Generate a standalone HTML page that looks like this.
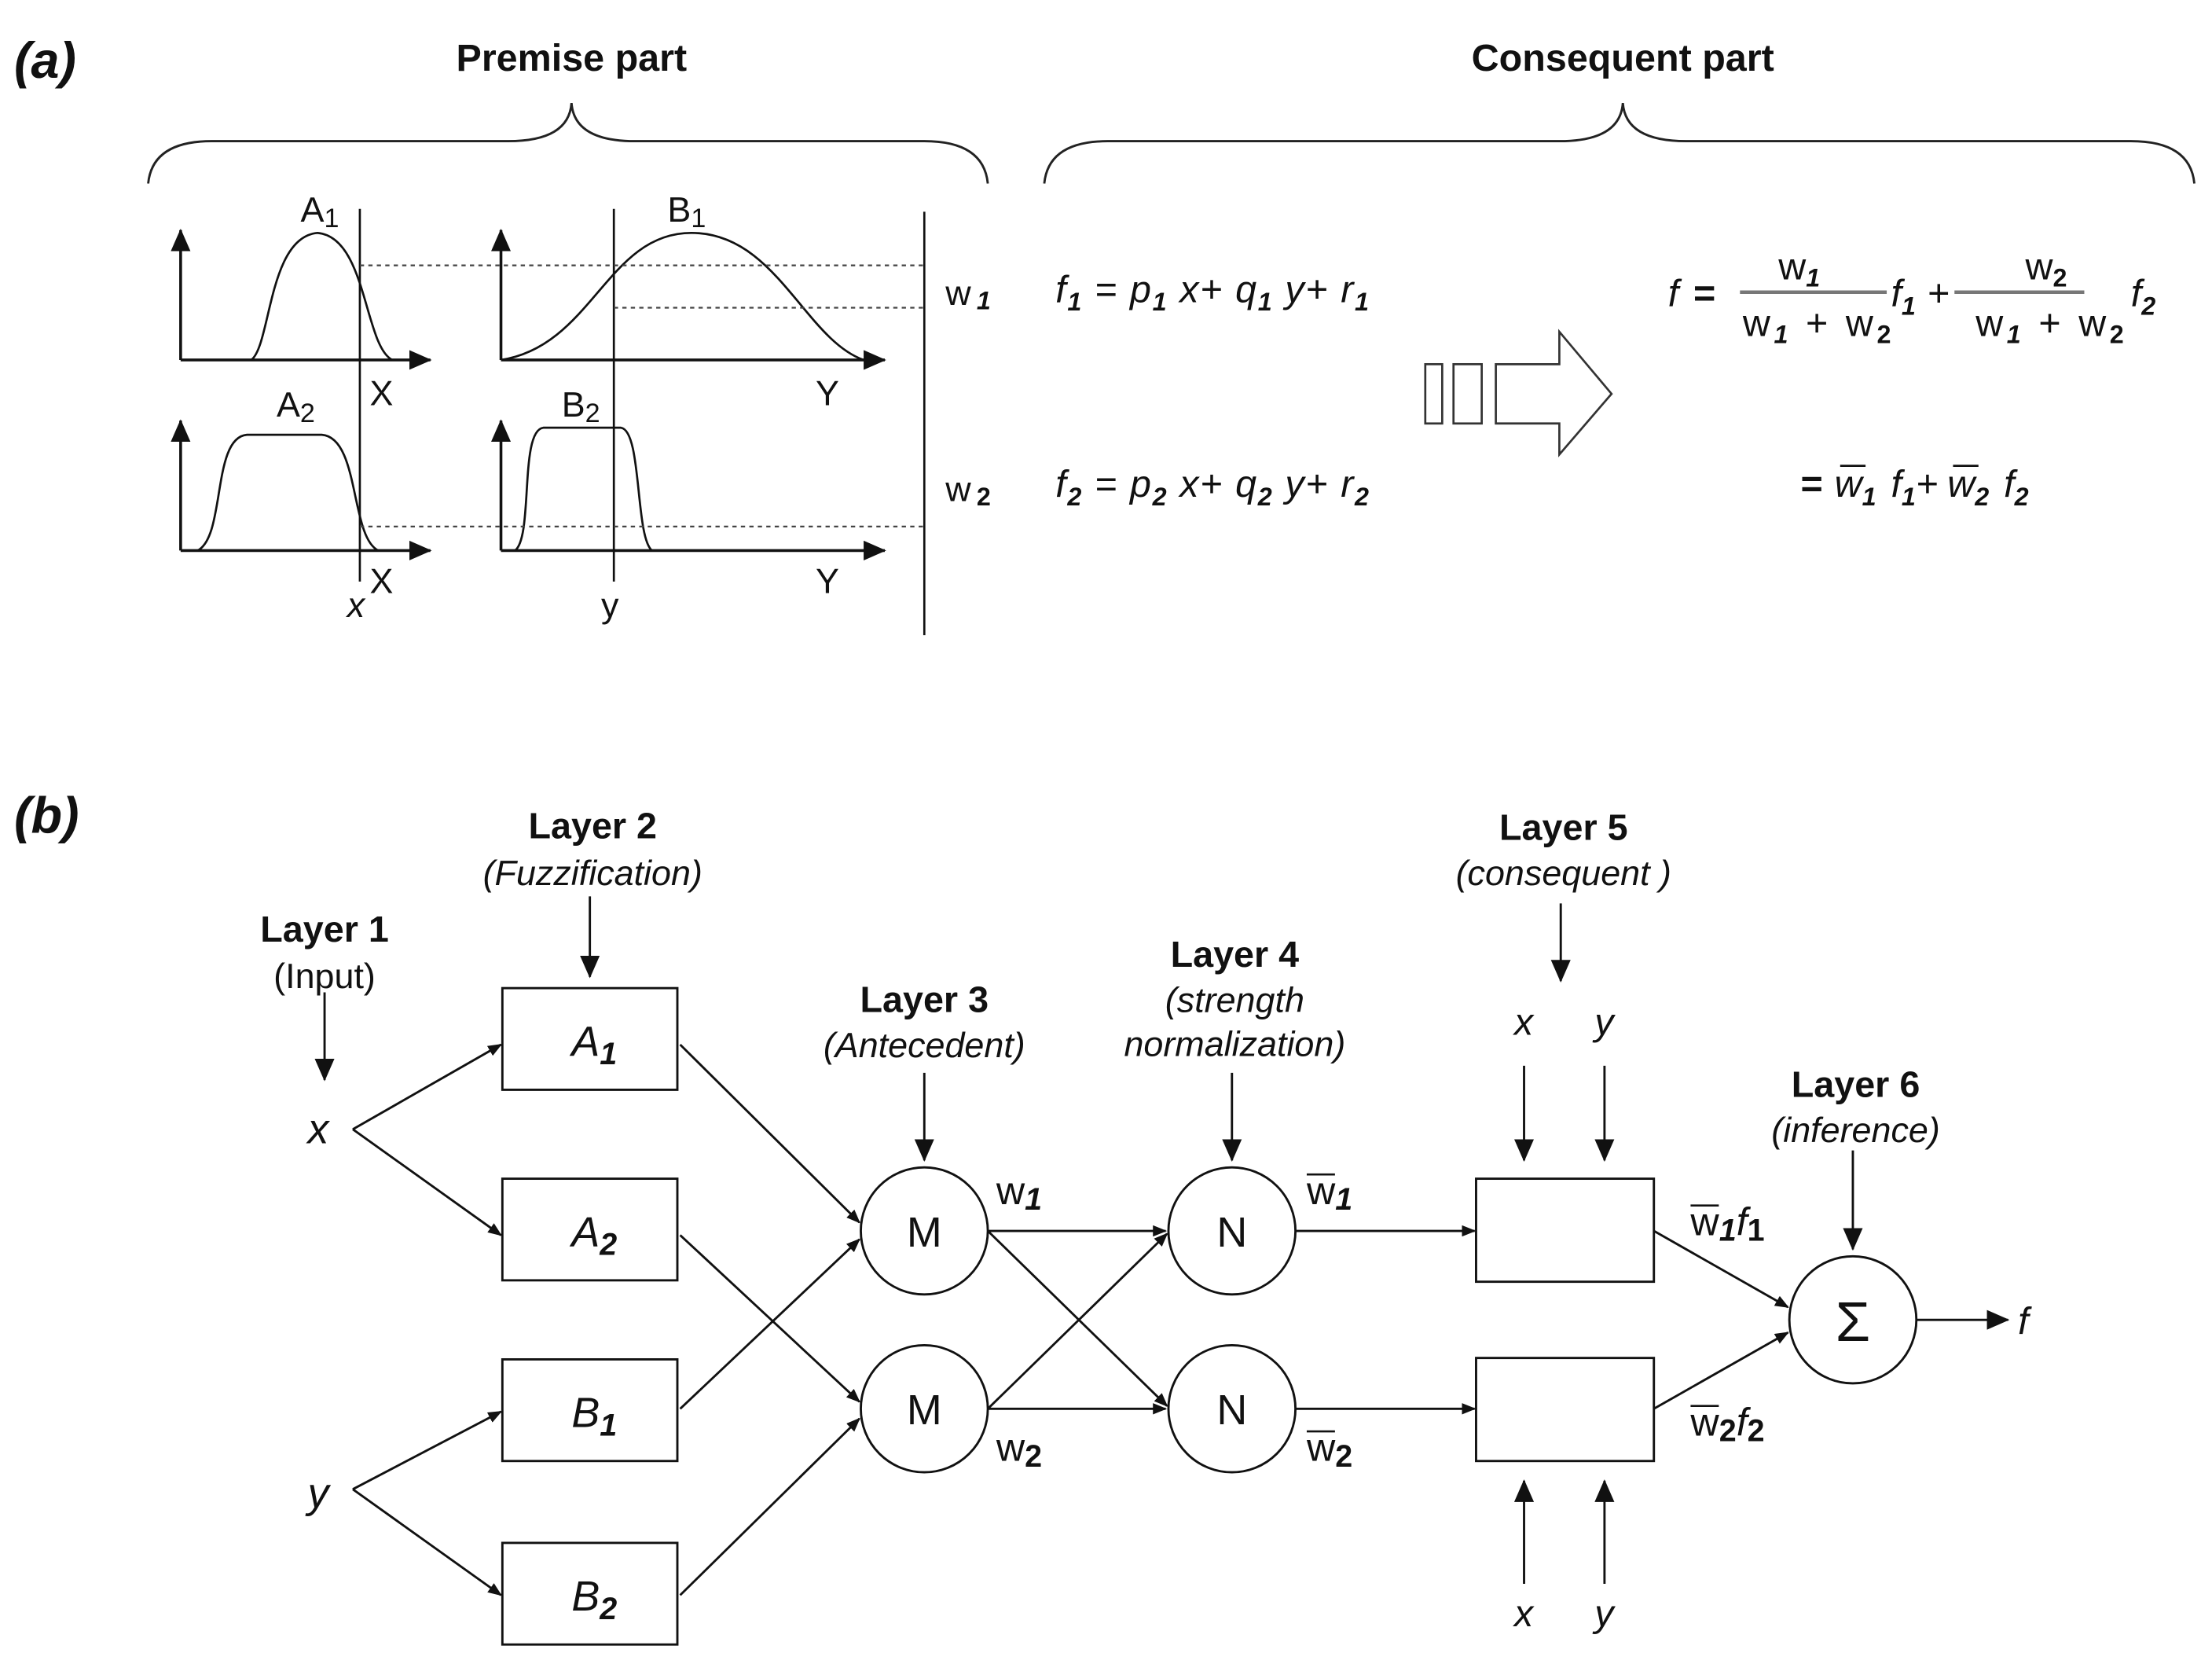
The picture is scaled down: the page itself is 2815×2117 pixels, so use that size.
<!DOCTYPE html>
<html><head><meta charset="utf-8"><style>html,body{margin:0;padding:0;background:#fff}svg{display:block}</style></head>
<body>
<svg width="2815" height="2117" viewBox="0 0 1567.5 1178.8" preserveAspectRatio="none" xmlns="http://www.w3.org/2000/svg" font-family="Liberation Sans, Arial, sans-serif">
<defs>
<marker id="ar" markerWidth="10" markerHeight="8" refX="9" refY="4" orient="auto" markerUnits="userSpaceOnUse" viewBox="0 0 10 8"><path d="M0,0 L10,4 L0,8 z" fill="#111"/></marker>
<marker id="ab" markerWidth="16" markerHeight="14" refX="15" refY="7" orient="auto" markerUnits="userSpaceOnUse" viewBox="0 0 16 14"><path d="M0,0 L16,7 L0,14 z" fill="#111"/></marker>
</defs>
<g fill="#111">
<text x="10" y="55" font-size="36" font-weight="bold" font-style="italic">(a)</text>
<text x="405" y="50" font-size="27" font-weight="bold" text-anchor="middle">Premise part</text>
<text x="1150" y="50" font-size="27" font-weight="bold" text-anchor="middle">Consequent part</text>
</g>
<g fill="none" stroke="#222" stroke-width="1.6">
<path d="M105,130 Q108,100 150,100 L360,100 Q403,100 405,73 Q407,100 450,100 L655,100 Q697,100 700,130"/>
<path d="M740,130 Q743,100 785,100 L1105,100 Q1148,100 1150,73 Q1152,100 1195,100 L1510,100 Q1552,100 1555,130"/>
</g>
<g stroke="#111" stroke-width="2" fill="none">
<line x1="128" y1="255" x2="128" y2="163" marker-end="url(#ab)"/>
<line x1="128" y1="255" x2="305" y2="255" marker-end="url(#ab)"/>
<line x1="355" y1="255" x2="355" y2="163" marker-end="url(#ab)"/>
<line x1="355" y1="255" x2="627" y2="255" marker-end="url(#ab)"/>
<line x1="128" y1="390" x2="128" y2="298" marker-end="url(#ab)"/>
<line x1="128" y1="390" x2="305" y2="390" marker-end="url(#ab)"/>
<line x1="355" y1="390" x2="355" y2="298" marker-end="url(#ab)"/>
<line x1="355" y1="390" x2="627" y2="390" marker-end="url(#ab)"/>
</g>
<g stroke="#111" stroke-width="1.5" fill="none">
<line x1="255" y1="148" x2="255" y2="412"/>
<line x1="435" y1="148" x2="435" y2="412"/>
<line x1="655" y1="150" x2="655" y2="450"/>
<path d="M178,255 C192,245 190,168 225,165 C260,168 258,245 278,255"/>
<path d="M355,255 C420,245 430,165 490,165 C550,165 570,240 612,255"/>
<path d="M140,390 C160,380 150,310 175,308 L228,308 C255,310 248,380 268,390"/>
<path d="M365,390 C378,380 368,305 385,303 L440,303 C455,305 450,380 462,390"/>
</g>
<g stroke="#444" stroke-width="1.3" stroke-dasharray="3,3">
<line x1="255" y1="188" x2="655" y2="188"/>
<line x1="435" y1="218" x2="655" y2="218"/>
<line x1="255" y1="373" x2="655" y2="373"/>
</g>
<g fill="#111" font-size="25">
<text x="213" y="157">A<tspan font-size="19" dy="4">1</tspan></text>
<text x="473" y="157">B<tspan font-size="19" dy="4">1</tspan></text>
<text x="196" y="295">A<tspan font-size="19" dy="4">2</tspan></text>
<text x="398" y="295">B<tspan font-size="19" dy="4">2</tspan></text>
<text x="262" y="287">X</text>
<text x="262" y="420">X</text>
<text x="578" y="287">Y</text>
<text x="578" y="420">Y</text>
<text x="246" y="437" font-style="italic">x</text>
<text x="426" y="437">y</text>
<text x="670" y="216">w<tspan font-size="18" font-style="italic" font-weight="bold" dx="4" dy="3">1</tspan></text>
<text x="670" y="355">w<tspan font-size="18" font-weight="bold" dx="4" dy="3">2</tspan></text>
</g>
<g fill="#111" font-size="27" font-style="italic">
<text x="748" y="214" textLength="222" lengthAdjust="spacing">f<tspan font-size="18" font-weight="bold" dy="6">1</tspan><tspan dy="-6"> = p</tspan><tspan font-size="18" font-weight="bold" dy="6">1</tspan><tspan dy="-6"> x+ q</tspan><tspan font-size="18" font-weight="bold" dy="6">1</tspan><tspan dy="-6"> y+ r</tspan><tspan font-size="18" font-weight="bold" dy="6">1</tspan></text>
<text x="748" y="352" textLength="222" lengthAdjust="spacing">f<tspan font-size="18" font-weight="bold" dy="6">2</tspan><tspan dy="-6"> = p</tspan><tspan font-size="18" font-weight="bold" dy="6">2</tspan><tspan dy="-6"> x+ q</tspan><tspan font-size="18" font-weight="bold" dy="6">2</tspan><tspan dy="-6"> y+ r</tspan><tspan font-size="18" font-weight="bold" dy="6">2</tspan></text>
</g>
<g fill="none" stroke="#333" stroke-width="1.5">
<rect x="1010" y="258" width="12" height="42"/>
<rect x="1030" y="258" width="20" height="42"/>
<path d="M1060,258 L1105,258 L1105,235 L1142,279 L1105,322 L1105,300 L1060,300 Z"/>
</g>
<g fill="#111" font-size="27">
<text x="1182" y="217" font-style="italic">f</text>
<text x="1200" y="217" font-weight="bold">=</text>
<text x="1275" y="198" text-anchor="middle">w<tspan font-size="18" font-weight="bold" font-style="italic" dy="5">1</tspan></text>
<line x1="1233" y1="207" x2="1337" y2="207" stroke="#777" stroke-width="2.5"/>
<text x="1235" y="238" textLength="105" lengthAdjust="spacing">w<tspan font-size="18" font-weight="bold" font-style="italic" dy="5">1</tspan><tspan dy="-5"> + w</tspan><tspan font-size="18" font-weight="bold" dy="5">2</tspan></text>
<text x="1340" y="217" font-style="italic">f<tspan font-size="18" font-weight="bold" dy="6">1</tspan></text>
<text x="1366" y="217">+</text>
<text x="1450" y="198" text-anchor="middle">w<tspan font-size="18" font-weight="bold" dy="5">2</tspan></text>
<line x1="1385" y1="207" x2="1477" y2="207" stroke="#777" stroke-width="2.5"/>
<text x="1400" y="238" textLength="105" lengthAdjust="spacing">w<tspan font-size="18" font-weight="bold" font-style="italic" dy="5">1</tspan><tspan dy="-5"> + w</tspan><tspan font-size="18" font-weight="bold" dy="5">2</tspan></text>
<text x="1510" y="217" font-style="italic">f<tspan font-size="18" font-weight="bold" dy="6">2</tspan></text>
<text x="1276" y="352" font-weight="bold">=</text>
<text x="1300" y="352" font-style="italic">w<tspan font-size="18" font-weight="bold" dy="6">1</tspan></text>
<text x="1340" y="352" font-style="italic">f<tspan font-size="18" font-weight="bold" dy="6">1</tspan></text>
<text x="1358" y="352">+</text>
<text x="1380" y="352" font-style="italic">w<tspan font-size="18" font-weight="bold" dy="6">2</tspan></text>
<text x="1420" y="352" font-style="italic">f<tspan font-size="18" font-weight="bold" dy="6">2</tspan></text>
<line x1="1304" y1="330" x2="1322" y2="330" stroke="#111" stroke-width="1.5"/>
<line x1="1384" y1="330" x2="1402" y2="330" stroke="#111" stroke-width="1.5"/>
</g>

<!-- (b) -->
<g fill="#111">
<text x="10" y="590" font-size="36" font-weight="bold" font-style="italic">(b)</text>
<g font-size="26" font-weight="bold" text-anchor="middle">
<text x="230" y="667">Layer 1</text>
<text x="420" y="594">Layer 2</text>
<text x="655" y="717">Layer 3</text>
<text x="875" y="685">Layer 4</text>
<text x="1108" y="595">Layer 5</text>
<text x="1315" y="777">Layer 6</text>
</g>
<g font-size="25" text-anchor="middle">
<text x="230" y="700">(Input)</text>
<text x="420" y="627" font-style="italic">(Fuzzification)</text>
<text x="655" y="749" font-style="italic">(Antecedent)</text>
<text x="875" y="717" font-style="italic">(strength</text>
<text x="875" y="748" font-style="italic">normalization)</text>
<text x="1108" y="627" font-style="italic">(consequent )</text>
<text x="1315" y="809" font-style="italic">(inference)</text>
</g>
</g>
<g stroke="#111" stroke-width="1.6" fill="none">
<line x1="230" y1="703" x2="230" y2="765" marker-end="url(#ab)"/>
<line x1="418" y1="635" x2="418" y2="692" marker-end="url(#ab)"/>
<line x1="655" y1="760" x2="655" y2="822" marker-end="url(#ab)"/>
<line x1="873" y1="760" x2="873" y2="822" marker-end="url(#ab)"/>
<line x1="1106" y1="640" x2="1106" y2="695" marker-end="url(#ab)"/>
<line x1="1313" y1="815" x2="1313" y2="885" marker-end="url(#ab)"/>
<rect x="356" y="700" width="124" height="72"/>
<rect x="356" y="835" width="124" height="72"/>
<rect x="356" y="963" width="124" height="72"/>
<rect x="356" y="1093" width="124" height="72"/>
<circle cx="655" cy="872" r="45"/>
<circle cx="655" cy="998" r="45"/>
<circle cx="873" cy="872" r="45"/>
<circle cx="873" cy="998" r="45"/>
<circle cx="1313" cy="935" r="45"/>
<rect x="1046" y="835" width="126" height="73"/>
<rect x="1046" y="962" width="126" height="73"/>
<line x1="250" y1="800" x2="355" y2="740" marker-end="url(#ar)"/>
<line x1="250" y1="800" x2="355" y2="875" marker-end="url(#ar)"/>
<line x1="250" y1="1055" x2="355" y2="1000" marker-end="url(#ar)"/>
<line x1="250" y1="1055" x2="355" y2="1130" marker-end="url(#ar)"/>
<line x1="482" y1="740" x2="609" y2="866" marker-end="url(#ar)"/>
<line x1="482" y1="875" x2="609" y2="993" marker-end="url(#ar)"/>
<line x1="482" y1="998" x2="609" y2="878" marker-end="url(#ar)"/>
<line x1="482" y1="1130" x2="609" y2="1005" marker-end="url(#ar)"/>
<line x1="700" y1="872" x2="826" y2="872" marker-end="url(#ar)"/>
<line x1="700" y1="872" x2="827" y2="996" marker-end="url(#ar)"/>
<line x1="700" y1="998" x2="827" y2="874" marker-end="url(#ar)"/>
<line x1="700" y1="998" x2="826" y2="998" marker-end="url(#ar)"/>
<line x1="918" y1="872" x2="1045" y2="872" marker-end="url(#ar)"/>
<line x1="918" y1="998" x2="1045" y2="998" marker-end="url(#ar)"/>
<line x1="1080" y1="755" x2="1080" y2="822" marker-end="url(#ab)"/>
<line x1="1137" y1="755" x2="1137" y2="822" marker-end="url(#ab)"/>
<line x1="1080" y1="1122" x2="1080" y2="1049" marker-end="url(#ab)"/>
<line x1="1137" y1="1122" x2="1137" y2="1049" marker-end="url(#ab)"/>
<line x1="1172" y1="872" x2="1267" y2="926" marker-end="url(#ar)"/>
<line x1="1172" y1="998" x2="1267" y2="944" marker-end="url(#ar)"/>
<line x1="1358" y1="935" x2="1423" y2="935" marker-end="url(#ab)"/>
</g>
<g fill="#111" font-size="30">
<text x="218" y="810" font-style="italic">x</text>
<text x="218" y="1068" font-style="italic">y</text>
<text x="405" y="748" font-style="italic">A<tspan font-size="22" font-weight="bold" dy="6">1</tspan></text>
<text x="405" y="883" font-style="italic">A<tspan font-size="22" font-weight="bold" dy="6">2</tspan></text>
<text x="405" y="1011" font-style="italic">B<tspan font-size="22" font-weight="bold" dy="6">1</tspan></text>
<text x="405" y="1141" font-style="italic">B<tspan font-size="22" font-weight="bold" dy="6">2</tspan></text>
<text x="655" y="883" text-anchor="middle">M</text>
<text x="655" y="1009" text-anchor="middle">M</text>
<text x="873" y="883" text-anchor="middle">N</text>
<text x="873" y="1009" text-anchor="middle">N</text>
<text x="1313" y="950" text-anchor="middle" font-size="40">Σ</text>
<text x="1430" y="945" font-style="italic" font-size="27">f</text>
<text x="1073" y="733" font-style="italic" font-size="27">x</text>
<text x="1130" y="733" font-style="italic" font-size="27">y</text>
<text x="1073" y="1152" font-style="italic" font-size="27">x</text>
<text x="1130" y="1152" font-style="italic" font-size="27">y</text>
<g font-size="28">
<text x="706" y="853">w<tspan font-size="22" font-weight="bold" font-style="italic" dy="4">1</tspan></text>
<text x="706" y="1035">w<tspan font-size="22" font-weight="bold" dy="4">2</tspan></text>
<text x="926" y="853">w<tspan font-size="22" font-weight="bold" font-style="italic" dy="4">1</tspan></text>
<text x="926" y="1035">w<tspan font-size="22" font-weight="bold" dy="4">2</tspan></text>
<text x="1198" y="875">w<tspan font-size="22" font-weight="bold" font-style="italic" dy="4">1</tspan><tspan font-style="italic" dy="-4">f</tspan><tspan font-size="22" font-weight="bold" dy="4">1</tspan></text>
<text x="1198" y="1017">w<tspan font-size="22" font-weight="bold" dy="4">2</tspan><tspan font-style="italic" dy="-4">f</tspan><tspan font-size="22" font-weight="bold" dy="4">2</tspan></text>
</g>
</g>
<g stroke="#111" stroke-width="1.5">
<line x1="926" y1="832" x2="946" y2="832"/>
<line x1="926" y1="1014" x2="946" y2="1014"/>
<line x1="1198" y1="854" x2="1218" y2="854"/>
<line x1="1198" y1="996" x2="1218" y2="996"/>
</g>
</svg>
</body></html>
